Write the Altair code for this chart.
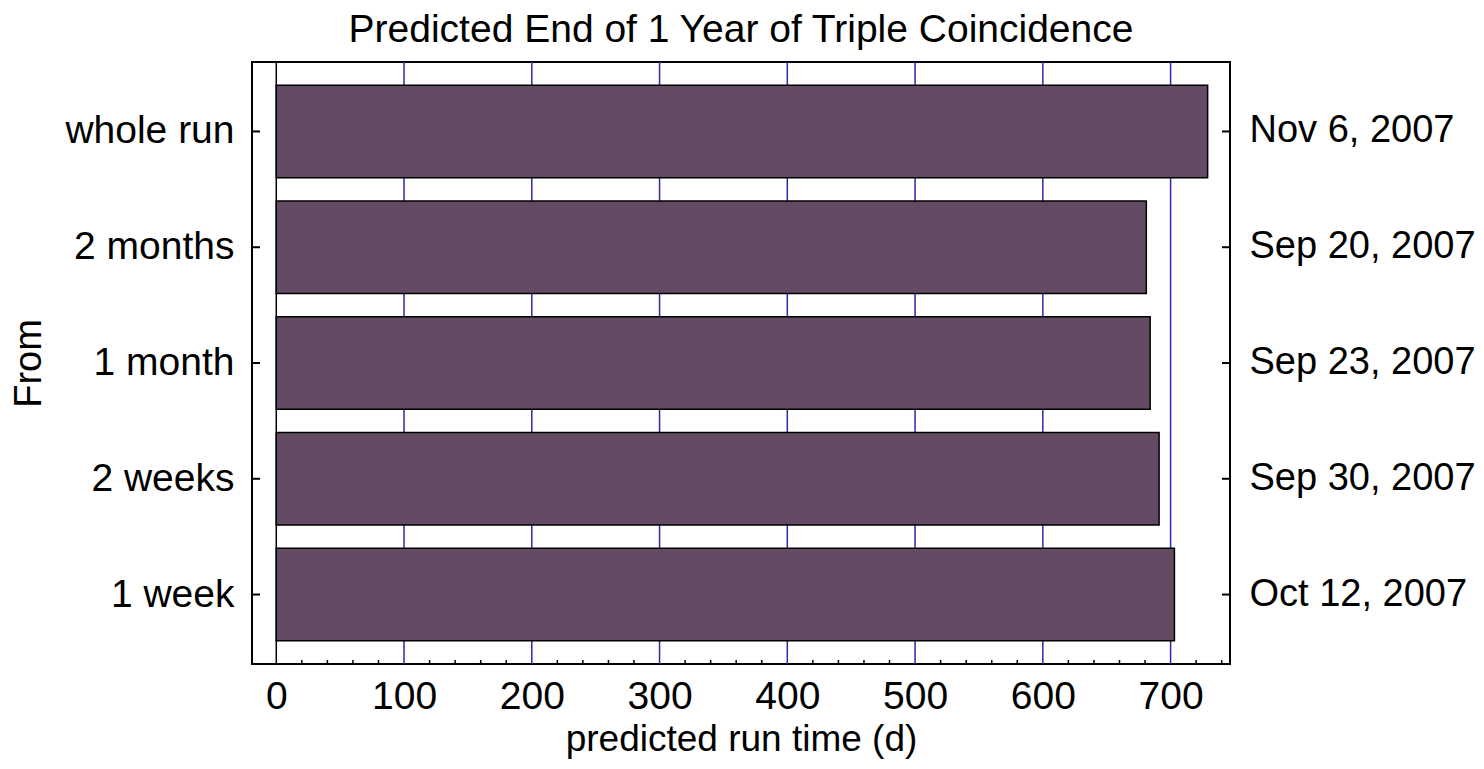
import altair as alt
import pandas as pd

categories = ["whole run", "2 months", "1 month", "2 weeks", "1 week"]
run_days = [729, 681, 684, 691, 703]
end_dates = ["Nov 6, 2007", "Sep 20, 2007", "Sep 23, 2007", "Sep 30, 2007", "Oct 12, 2007"]
major_ticks = [0, 100, 200, 300, 400, 500, 600, 700]
minor_ticks = [v for v in range(20, 741, 20) if v % 100 != 0]

FONT = "Liberation Sans"
BAR = "#634b63"
GRID = "#2b2ba6"

bars_df = pd.DataFrame({"From": categories, "days": run_days, "end": end_dates})
major_df = pd.DataFrame({"v": major_ticks})
minor_df = pd.DataFrame({"v": minor_ticks})

W, H = 978, 602
xscale = alt.Scale(domain=[-19, 746.5], nice=False, zero=False)
yscale = alt.Scale(domain=categories, paddingInner=0.2, paddingOuter=0.2)

xaxis = alt.Axis(
    values=major_ticks,
    grid=False,
    ticks=False,
    domain=False,
    labelFontSize=39,
    labelPadding=13,
    labelColor="black",
    title="predicted run time (d)",
    titleFontSize=37,
    titleFontWeight="normal",
    titleColor="black",
    titlePadding=5,
)

label_expr = " : ".join(
    f"datum.value == '{c}' ? '{d}'" for c, d in zip(categories, end_dates)
) + " : ''"

grid = alt.Chart(major_df).mark_rule(strokeWidth=1.5).encode(
    x=alt.X("v:Q", scale=xscale, axis=xaxis),
    color=alt.condition(alt.datum.v == 0, alt.value("black"), alt.value(GRID)),
)

bars = alt.Chart(bars_df).mark_bar(color=BAR, stroke="black", strokeWidth=1.5).encode(
    x=alt.X("days:Q", scale=xscale, axis=xaxis),
    y=alt.Y(
        "From:N",
        sort=categories,
        scale=yscale,
        axis=alt.Axis(
            orient="left",
            ticks=False,
            domain=False,
            labelFontSize=39,
            labelPadding=18,
            labelLimit=400,
            labelColor="black",
            title="From",
            titleFontSize=38,
            titleFontWeight="normal",
            titleColor="black",
            titlePadding=16,
        ),
    ),
)

left_ticks = alt.Chart(bars_df).mark_rule(color="black", strokeWidth=2).encode(
    y=alt.Y("From:N", sort=categories, scale=yscale, axis=None),
    x=alt.value(0),
    x2=alt.value(8),
)

right_ticks = alt.Chart(bars_df).mark_rule(color="black", strokeWidth=2).encode(
    y=alt.Y(
        "From:N",
        sort=categories,
        scale=yscale,
        axis=alt.Axis(
            orient="right",
            ticks=False,
            domain=False,
            labelFontSize=38,
            labelPadding=19,
            labelLimit=400,
            labelColor="black",
            labelExpr=label_expr,
            title=None,
        ),
    ),
    x=alt.value(W - 8),
    x2=alt.value(W),
)

minor = alt.Chart(minor_df).mark_rule(color="black", strokeWidth=1.5).encode(
    x=alt.X("v:Q", scale=xscale, axis=xaxis),
    y=alt.value(H - 4),
    y2=alt.value(H),
)

chart = (
    alt.layer(grid, bars, left_ticks, right_ticks, minor)
    .resolve_axis(y="independent")
    .properties(
        width=W,
        height=H,
        autosize=alt.AutoSizeParams(type="none"),
        padding={"left": 244, "top": 54, "right": 246, "bottom": 97},
        title=alt.TitleParams(
            "Predicted End of 1 Year of Triple Coincidence",
            fontSize=39,
            fontWeight="normal",
            color="black",
            anchor="middle",
            offset=11,
        ),
    )
    .configure(font=FONT, background="white")
    .configure_view(stroke="black", strokeWidth=2)
)

chart.save("out.html", embed_options={"renderer": "svg", "actions": False})
